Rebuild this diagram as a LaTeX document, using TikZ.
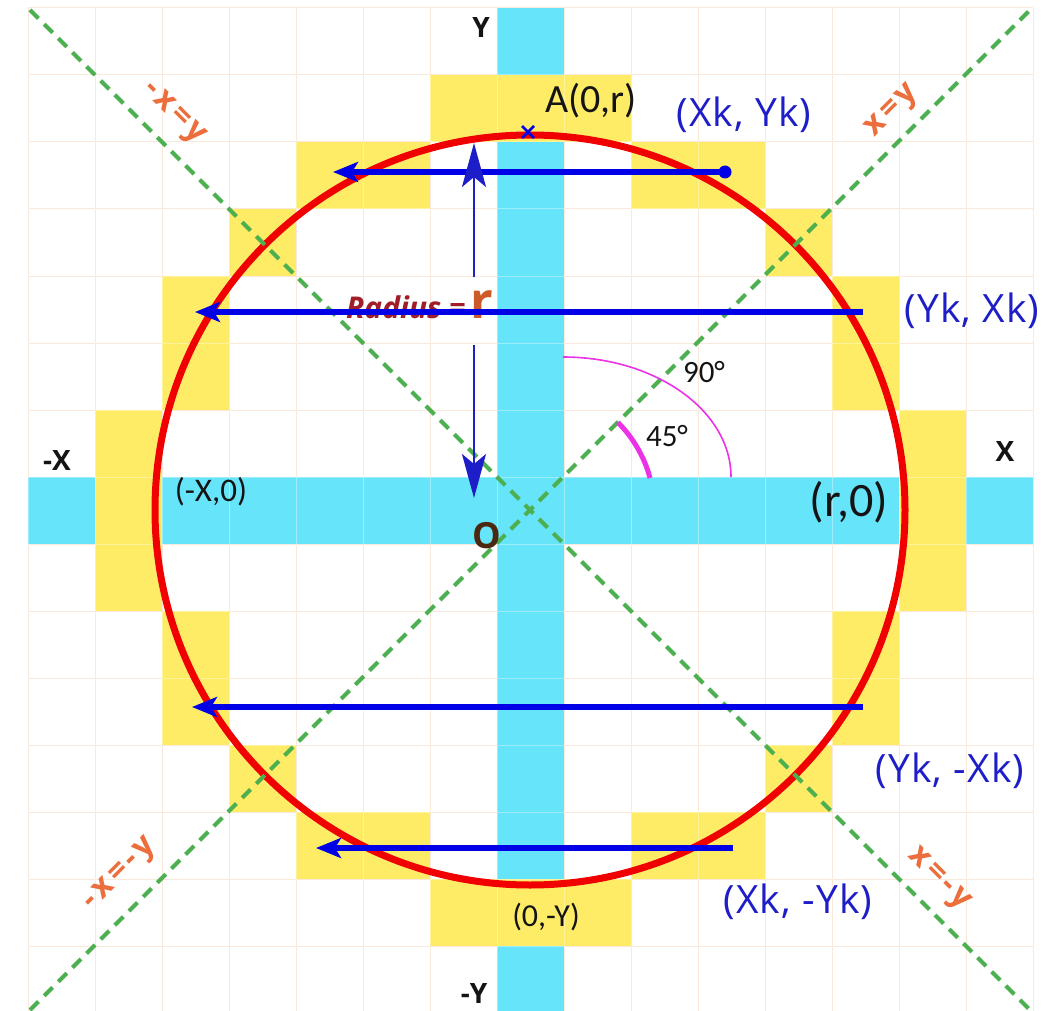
\documentclass[tikz,border=0pt]{standalone}
\usepackage{fontspec}
\setmainfont{Open Sans}
\newfontfamily\calfont{Carlito}
\newfontfamily\eqfont[LetterSpace=12]{Open Sans}
\newfontfamily\coordfont[LetterSpace=3]{Open Sans}
\usetikzlibrary{arrows.meta,calc}
\definecolor{cyanband}{RGB}{102,228,250}
\definecolor{yel}{RGB}{255,236,102}
\definecolor{gridc}{RGB}{248,222,200}
\definecolor{redc}{RGB}{240,0,0}
\definecolor{bluec}{RGB}{0,0,230}
\definecolor{navy}{RGB}{30,30,200}
\definecolor{greenc}{RGB}{76,175,80}
\definecolor{magc}{RGB}{235,50,230}
\definecolor{orangec}{RGB}{235,110,60}
\definecolor{lblblue}{RGB}{30,30,200}
\definecolor{darkred}{RGB}{160,30,40}
\definecolor{rorange}{RGB}{205,90,40}
\definecolor{brownc}{RGB}{75,40,15}
\definecolor{txt}{RGB}{20,20,20}
\tikzset{
  cell/.style={fill=yel},
  band/.style={fill=cyanband},
  diag/.style={greenc, line width=4pt, dash pattern=on 12pt off 8pt},
  hline/.style={bluec, line width=5.5pt, -{Stealth[length=25pt, width=20pt, inset=6pt]}},
  radarrow/.style={navy, line width=2.5pt, -{Stealth[length=44pt, width=24pt, inset=10pt]}},
  axlbl/.style={font=\fontsize{28}{30}\selectfont\bfseries, text=txt, inner sep=0pt},
  ptlbl/.style={font=\calfont, text=txt, inner sep=0pt},
  coordlbl/.style={font=\coordfont\fontsize{39}{42}\selectfont, text=lblblue, inner sep=0pt},
  eqlbl/.style={font=\eqfont\fontsize{32}{34}\selectfont\bfseries, text=orangec, inner sep=0pt},
}
\begin{document}
\begin{tikzpicture}[x=1pt,y=-1pt]
\useasboundingbox (0,0) rectangle (1063,1011);
\fill[white] (0,0) rectangle (1063,1011);
% grid
\foreach \i in {0,...,15} {
  \draw[gridc, line width=1pt] ({28+67*\i},8) -- ({28+67*\i},1011);
  \draw[gridc, line width=1pt] (28,{8+67*\i}) -- (1033,{8+67*\i});
}
% cyan axes bands
\fill[band] (497,8) rectangle (564,1011);
\fill[band] (28,477) rectangle (1033,544);
% yellow cells
\foreach \c/\r in {6/1,7/1,8/1, 4/2,5/2,9/2,10/2, 3/3,11/3, 2/4,12/4, 2/5,12/5,
  1/6,13/6, 1/7,13/7, 1/8,13/8, 2/9,12/9, 2/10,12/10, 3/11,11/11,
  4/12,5/12,9/12,10/12, 6/13,7/13,8/13}
  \fill[cell] ({28+67*\c},{8+67*\r}) rectangle ++(67,67);
% faint grid over fills
\foreach \i in {0,...,15} {
  \draw[white, opacity=0.35, line width=1pt] ({28+67*\i},8) -- ({28+67*\i},1011);
  \draw[white, opacity=0.35, line width=1pt] (28,{8+67*\i}) -- (1033,{8+67*\i});
}
% circle
\coordinate (O) at (530,510);
\draw[redc, line width=7pt] (O) circle[radius=375pt];
% diagonals
\coordinate (d1a) at (30,10);
\coordinate (d1b) at (1030,1010);
\coordinate (d2a) at (30,1010);
\coordinate (d2b) at (1030,10);
\draw[diag] (d1a) -- (d1b);
\draw[diag] (d2a) -- (d2b);
% angle arcs
\coordinate (a90s) at (731,477);
\coordinate (a45s) at (650,478);
\draw[magc, line width=1.6pt] (a90s) arc[start angle=0, end angle=90, x radius=168pt, y radius=120pt];
\draw[magc, line width=5pt] (a45s) arc[start angle=15, end angle=45, radius=124pt];
% radius label
\node[anchor=base west, inner sep=0pt] (radlbl) at (346,318)
  {\fontsize{30}{32}\selectfont\bfseries\itshape\color{darkred}Radius =\,\fontsize{50}{50}\selectfont\upshape\color{rorange}r};
% horizontal arrows
\coordinate (h1s) at (725,172); \coordinate (h1e) at (333,172);
\coordinate (h2s) at (863,312); \coordinate (h2e) at (195,312);
\coordinate (h3s) at (863,707); \coordinate (h3e) at (192,707);
\coordinate (h4s) at (733,848); \coordinate (h4e) at (316,848);
\draw[hline] (h1s) -- (h1e);
\fill[bluec] (h1s) circle[radius=6.5pt];
\draw[hline] (h2s) -- (h2e);
\draw[hline] (h3s) -- (h3e);
\draw[hline] (h4s) -- (h4e);
% radius arrows
\coordinate (r1s) at (474,277); \coordinate (r1e) at (474,143);
\coordinate (r2s) at (474,345); \coordinate (r2e) at (474,498);
\draw[radarrow] (r1s) -- (r1e);
\draw[radarrow] (r2s) -- (r2e);
% x mark at A
\coordinate (A) at (528,132);
\draw[bluec, line width=2.5pt] ($(A)+(-6,-6)$) -- ($(A)+(6,6)$);
\draw[bluec, line width=2.5pt] ($(A)+(-6,6)$) -- ($(A)+(6,-6)$);
% axis labels
\node[axlbl] (ly) at (481,28) {Y};
\node[axlbl] (lmy) at (474,993) {-Y};
\node[axlbl] (lmx) at (57,461) {-X};
\node[axlbl] (lx) at (1005,452) {X};
% point labels
\node[ptlbl, font=\calfont\fontsize{40}{42}\selectfont] (lA) at (591,101) {A(0,r)};
\node[ptlbl, font=\calfont\fontsize{33}{35}\selectfont] (lmx0) at (211,492) {(-X,0)};
\node[ptlbl, font=\calfont\fontsize{48}{50}\selectfont] (lr0) at (849,502) {(r,0)};
\node[ptlbl, font=\calfont\fontsize{32}{34}\selectfont] (l0my) at (546,917) {(0,-Y)};
\node[inner sep=0pt, font=\fontsize{36}{38}\selectfont\bfseries, text=brownc] (lO) at (487,536) {O};
\node[ptlbl, font=\calfont\fontsize{31}{33}\selectfont] (l90) at (704,372) {90°};
\node[ptlbl, font=\calfont\fontsize{31}{33}\selectfont] (l45) at (667,436) {45°};
% coordinate labels
\node[coordlbl] (c1) at (744,115) {(Xk, Yk)};
\node[coordlbl] (c2) at (972,311) {(Yk, Xk)};
\node[coordlbl] (c3) at (950,771) {(Yk, -Xk)};
\node[coordlbl] (c4) at (798,902) {(Xk, -Yk)};
% diagonal equation labels
\node[eqlbl, rotate=45] (e1) at (893,112) {x=y};
\node[eqlbl, rotate=-45] (e2) at (173,114) {-x=y};
\node[eqlbl, rotate=45] (e3) at (121,875) {-x=-y};
\node[eqlbl, rotate=-45] (e4) at (938,880) {x=-y};
\end{tikzpicture}
\end{document}
